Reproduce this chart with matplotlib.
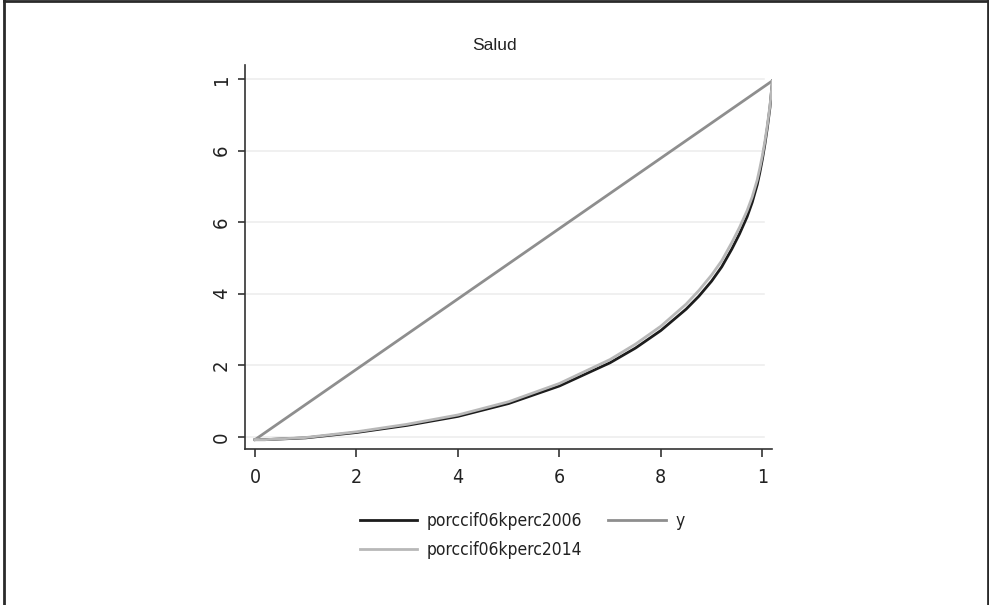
import matplotlib
matplotlib.use("Agg")
import matplotlib.pyplot as plt
from matplotlib.lines import Line2D

# Lorenz curves for health spending (cumulative population share vs cumulative share)
x_pop = [0.0, 0.02, 0.10, 0.20, 0.30, 0.40, 0.50, 0.60, 0.70, 0.75, 0.80, 0.85, 0.875, 0.90, 0.92, 0.94,
         0.955, 0.97, 0.98, 0.99, 0.995, 1.00, 1.005, 1.01, 1.015, 1.02]
share_2006 = [-0.008, -0.008, -0.003, 0.012, 0.032, 0.057, 0.093, 0.142, 0.207, 0.248, 0.297, 0.357, 0.393,
              0.435, 0.475, 0.525, 0.567, 0.615, 0.655, 0.705, 0.738, 0.775, 0.817, 0.865, 0.920, 0.995]
share_2014 = [-0.008, -0.008, -0.002, 0.014, 0.035, 0.061, 0.098, 0.149, 0.216, 0.259, 0.309, 0.371, 0.409,
              0.452, 0.492, 0.543, 0.585, 0.632, 0.670, 0.718, 0.750, 0.785, 0.825, 0.872, 0.925, 0.995]

# Equality line
x_eq = [0.0, 1.02]
y_eq = [-0.008, 0.995]

x_ticks = [0.0, 0.2, 0.4, 0.6, 0.8, 1.0]
x_ticklabels = ["0", "2", "4", "6", "8", "1"]
y_ticks = [0.0, 0.2, 0.4, 0.6, 0.8, 1.0]
y_ticklabels = ["0", "2", "4", "6", "6", "1"]

title = "Salud"
labels = ["porccif06kperc2006", "y", "porccif06kperc2014"]

narrow = dict(family="DejaVu Sans", stretch="condensed")

fig = plt.figure(figsize=(9.89, 6.05), dpi=100)
ax = fig.add_axes([0.2477, 0.2579, 0.5326, 0.6347])

for yv in y_ticks:
    ax.axhline(yv, xmax=0.985, color="#eeeeee", lw=1.2, zorder=0)

l06, = ax.plot(x_pop, share_2006, color="#1c1c1c", lw=2.0, label=labels[0], zorder=2)
ly, = ax.plot(x_eq, y_eq, color="#8e8e8e", lw=2.0, label=labels[1], zorder=3)
l14, = ax.plot(x_pop, share_2014, color="#b8b8b8", lw=2.0, label=labels[2], zorder=4)

ax.set_xlim(-0.0197, 1.0185)
ax.set_ylim(-0.034, 1.039)

ax.set_xticks(x_ticks)
ax.set_xticklabels(x_ticklabels, fontsize=14, color="#222222", **narrow)
ax.set_yticks(y_ticks)
ax.set_yticklabels(y_ticklabels, fontsize=14.5, color="#222222", rotation=90, va="center", **narrow)

ax.tick_params(axis="x", length=6, width=1.2, color="#333333", pad=8)
ax.tick_params(axis="y", length=5, width=1.2, color="#333333", pad=5)

for side in ("top", "right"):
    ax.spines[side].set_visible(False)
for side in ("left", "bottom"):
    ax.spines[side].set_color("#333333")
    ax.spines[side].set_linewidth(1.2)

fig.text(0.5005, 0.9256, title, ha="center", va="center", family=["Liberation Sans", "DejaVu Sans"],
         fontsize=12.5, color="#222222")

leg = fig.legend([l06, l14, ly], [labels[0], labels[2], labels[1]], ncol=2,
                 loc="upper left", bbox_to_anchor=(0.364, 0.153), frameon=False,
                 borderpad=0, borderaxespad=0,
                 prop=dict(size=12.5, **narrow), handlelength=3.3,
                 handletextpad=0.55, columnspacing=1.5, labelspacing=0.62)
for t in leg.get_texts():
    t.set_color("#222222")

# Outer frame
for xs, ys in (([0.004, 0.004], [0.0, 1.0]), ([0.004, 0.999], [0.999, 0.999]), ([0.999, 0.999], [0.0, 1.0])):
    fig.add_artist(Line2D(xs, ys, transform=fig.transFigure, color="#2a2a2a", lw=2.0))

fig.savefig("out.png", dpi=100)
